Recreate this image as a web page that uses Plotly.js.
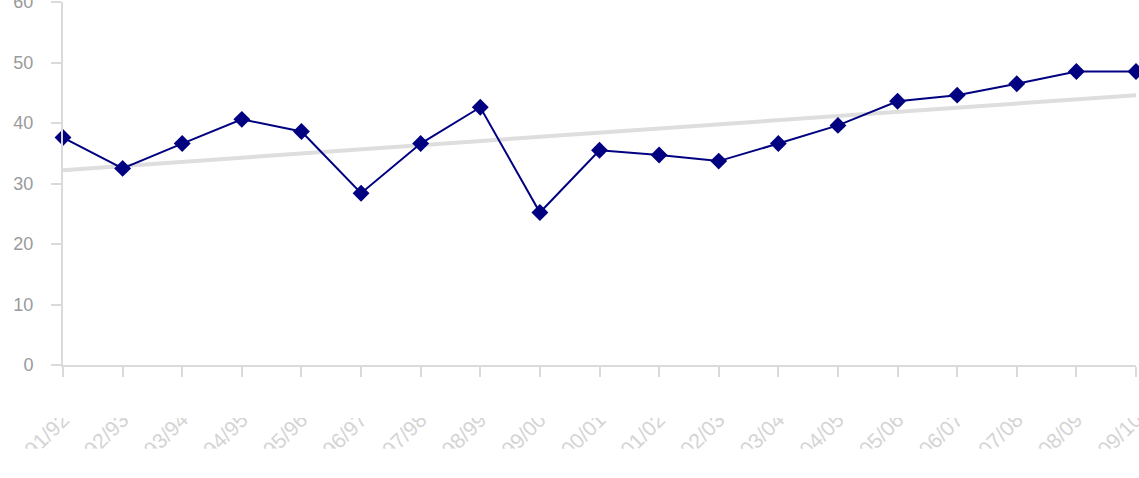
<!DOCTYPE html>
<html>
<head>
<meta charset="utf-8">
<script src="https://cdn.plot.ly/plotly-3.0.1.min.js"></script>
<style>html,body{margin:0;padding:0;background:#fff;}#chart{width:1139px;height:478px;}</style>
</head>
<body>
<div id="chart"></div>
<script>
const categories = ["91/92","92/93","93/94","94/95","95/96","96/97","97/98","98/99","99/00","00/01","01/02","02/03","03/04","04/05","05/06","06/07","07/08","08/09","09/10"];
const values = [37.6,32.5,36.6,40.6,38.6,28.4,36.6,42.6,25.2,35.5,34.7,33.7,36.6,39.6,43.6,44.6,46.5,48.5,48.5];
const trendEnds = [32.2,44.6];
const yTicks = [0,10,20,30,40,50,60];

const trend = {
  x: [categories[0], categories[categories.length-1]],
  y: trendEnds,
  type: 'scatter', mode: 'lines',
  line: {color: '#dedede', width: 4},
  hoverinfo: 'skip', showlegend: false
};
const series = {
  x: categories, y: values,
  type: 'scatter', mode: 'lines+markers',
  line: {color: '#000080', width: 2},
  marker: {symbol: 'diamond', size: 13, color: '#000080'},
  cliponaxis: false, showlegend: false
};
const layout = {
  width: 1139, height: 478,
  margin: {l: 63, r: 3, t: 2, b: 113, pad: 0},
  paper_bgcolor: '#fff', plot_bgcolor: '#fff',
  font: {family: 'Liberation Sans, Arial, sans-serif'},
  xaxis: {
    type: 'category', categoryorder: 'array', categoryarray: categories,
    range: [0, categories.length-1],
    showgrid: false, zeroline: false,
    showline: true, linecolor: '#dadada', linewidth: 2,
    ticks: 'outside', ticklen: 10, tickcolor: '#dadada', tickwidth: 2,
    tickangle: -45, ticklabelstandoff: 22, ticklabeloverflow: 'allow',
    tickfont: {size: 21, color: '#d4d4d4'}
  },
  yaxis: {
    range: [0, 60], tickvals: yTicks,
    showgrid: false, zeroline: false,
    showline: true, linecolor: '#dadada', linewidth: 2,
    ticks: 'outside', ticklen: 10, tickcolor: '#dadada', tickwidth: 2,
    ticklabelstandoff: 14, ticklabeloverflow: 'allow',
    tickfont: {size: 18, color: '#9a9a9a'}
  },
  shapes: [
    {type: 'rect', xref: 'paper', yref: 'paper', x0: -0.1, x1: 1.1, y0: -0.0413, y1: -0.146, fillcolor: '#fff', line: {width: 0}, layer: 'above'},
    {type: 'rect', xref: 'paper', yref: 'paper', x0: -0.1, x1: 1.1, y0: -0.231, y1: -0.4, fillcolor: '#fff', line: {width: 0}, layer: 'above'}
  ]
};
Plotly.newPlot('chart', [trend, series], layout, {displayModeBar: false, staticPlot: true});
</script>
</body>
</html>
